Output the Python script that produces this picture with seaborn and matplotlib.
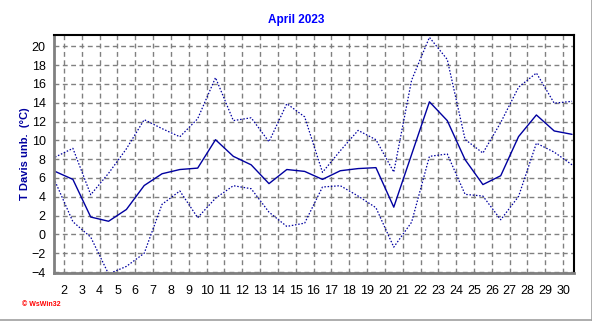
import matplotlib
matplotlib.use("Agg")
import matplotlib.pyplot as plt
from matplotlib.lines import Line2D
from matplotlib.ticker import MultipleLocator
import seaborn as sns
import pandas as pd
import numpy as np

sns.set_style("white")
plt.rcParams['font.family'] = ['Liberation Sans', 'DejaVu Sans']

days = [d + 0.5 for d in range(1, 31)]
t_mean = [6.7, 5.85, 1.85, 1.4, 2.65, 5.2, 6.45, 6.9, 7.05, 10.07,
          8.3, 7.4, 5.4, 6.9, 6.7, 5.85, 6.77, 7.0, 7.1, 2.9,
          8.5, 14.1, 12.1, 7.95, 5.3, 6.24, 10.4, 12.7, 11.0, 10.64]
t_max = [8.22, 9.15, 4.22, 6.5, 9.1, 12.2, 11.25, 10.38, 12.3, 16.67,
         12.1, 12.4, 9.85, 13.9, 12.5, 6.6, 8.9, 11.06, 10.07, 6.63,
         16.4, 20.95, 18.6, 10.1, 8.65, 11.9, 15.65, 17.16, 13.95, 14.15]
t_min = [5.65, 1.35, -0.29, -4.2, -3.4, -2.0, 3.2, 4.62, 1.78, 3.85,
         5.18, 4.86, 2.37, 0.85, 1.2, 5.04, 5.18, 4.08, 2.84, -1.35,
         1.3, 8.3, 8.55, 4.26, 4.08, 1.56, 4.04, 9.7, 8.75, 7.4]
x_ticks = list(range(2, 31))
y_ticks = list(range(-4, 21, 2))

df = pd.DataFrame({"day": days, "mean": t_mean, "max": t_max, "min": t_min})

line_col = "#0000a0"
fig = plt.figure(figsize=(5.92, 3.21), dpi=100)
ax = fig.add_axes([54/592, 1-273/321, (574-54)/592, (273-35)/321])

ax.grid(True, which="major", color="#808080", linestyle=(0, (3.5, 2.5)), linewidth=1)
ax.set_axisbelow(True)

sns.lineplot(data=df, x="day", y="max", ax=ax, color=line_col, linewidth=0.9,
             linestyle=(0, (1.2, 1.4)))
sns.lineplot(data=df, x="day", y="min", ax=ax, color=line_col, linewidth=0.9,
             linestyle=(0, (1.2, 1.4)))
sns.lineplot(data=df, x="day", y="mean", ax=ax, color=line_col, linewidth=1.0)

ax.set_xlim(1.44, 30.61)
ax.set_ylim(-4.1, 21.2)
ax.set_xticks(x_ticks)
ax.set_yticks(y_ticks)
ax.xaxis.set_minor_locator(MultipleLocator(0.25))
ax.yaxis.set_minor_locator(MultipleLocator(0.5))
ax.tick_params(axis="both", which="major", direction="out", length=4, width=1,
               color="#808080", labelsize=9, labelcolor="black", pad=2)
ax.tick_params(axis="both", which="minor", direction="out", length=2.5, width=0.8,
               color="#808080")
ax.tick_params(axis="x", which="major", pad=5)

for s in ["left", "bottom"]:
    ax.spines[s].set_color("#808080")
    ax.spines[s].set_linewidth(2)
for s in ["top", "right"]:
    ax.spines[s].set_color("black")
    ax.spines[s].set_linewidth(1.5)

ax.set_xlabel("")
ax.set_ylabel("T Davis unb.  (°C)", color="#0000a0", fontsize=8, fontweight="bold",
              va="center")
ax.yaxis.set_label_coords((25 - 54) / 520, 0.5)

fig.text(296/592, 1-20/321, "April 2023", ha="center", va="center",
         color="#0000ff", fontsize=8.5, fontweight="bold")
fig.text(22/592, 1-304/321, "© WsWin32", ha="left", va="center",
         color="#ff0000", fontsize=5, fontweight="bold")

fig.add_artist(Line2D([591.5/592, 591.5/592], [0, 1], color="#a0a0a0", linewidth=1.2,
                      transform=fig.transFigure))
fig.add_artist(Line2D([0, 1], [1.5/321, 1.5/321], color="#a0a0a0", linewidth=1.2,
                      transform=fig.transFigure))

fig.savefig("out.png", dpi=100, facecolor="white")
